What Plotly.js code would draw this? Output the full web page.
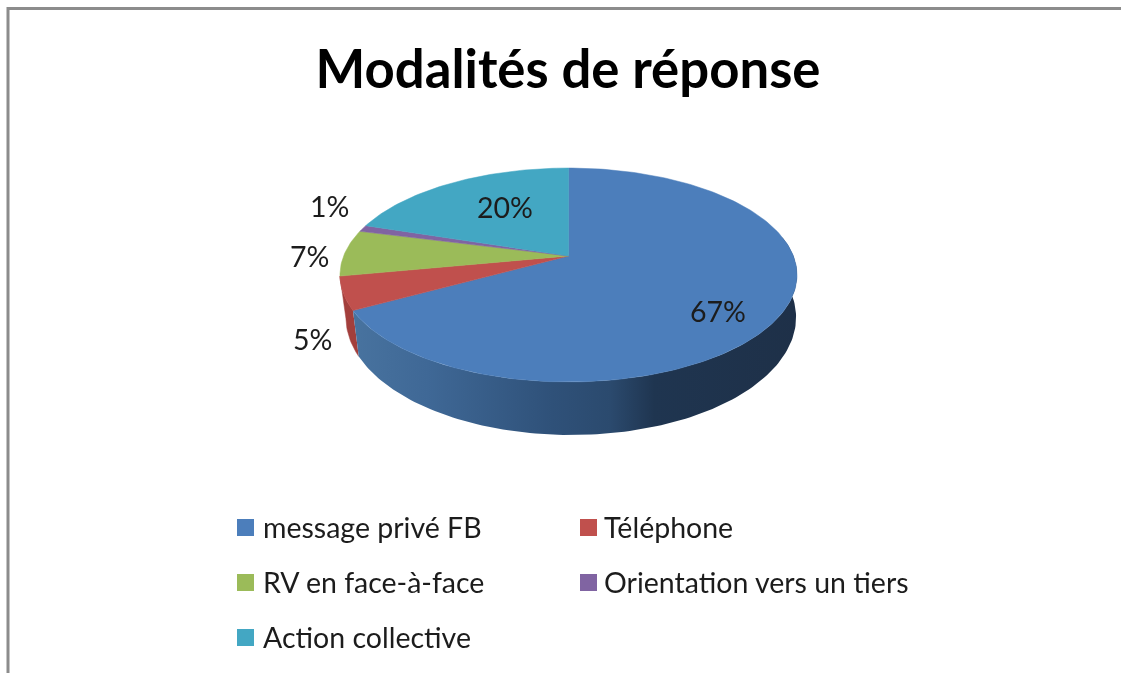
<!DOCTYPE html>
<html lang="fr">
<head>
<meta charset="utf-8">
<script src="https://cdn.plot.ly/plotly-3.0.1.min.js"></script>
<style>
html,body{margin:0;padding:0;background:#fff;overflow:hidden}
#chart{width:1121px;height:673px;filter:blur(0.5px)}
#chart text{font-variant-ligatures:none}
</style>
</head>
<body>
<div id="chart"></div>
<script>
// ---- Data ----
var categories = ["message privé FB", "Téléphone", "RV en face-à-face", "Orientation vers un tiers", "Action collective"];
var shares = [67, 5, 7, 1, 20];
var sliceLabels = ["67%", "5%", "7%", "1%", "20%"];
var colors = ["#4c7ebb", "#c0504d", "#9bbb59", "#8064a2", "#43a7c3"];
var chartTitle = "Modalités de réponse";

// ---- Projection of the tilted pie (perspective disc on a page-pixel axis) ----
var TOP = {cx: 568.5, cy: 256, a: 224.9, b: 103.6};
var BOTTOM = {cx: 571, cy: 296.4, a: 221.5, b: 114};
var K = 0.1776;
function project(face, frac) {
  var t = 2 * Math.PI * frac, s = Math.sin(t), c = Math.cos(t), w = 1 + K * c;
  return [face.cx + face.a * s / w, face.cy - face.b * c / w];
}
function arc(face, f0, f1) {
  var n = Math.max(2, Math.ceil(Math.abs(f1 - f0) * 300)), pts = [];
  for (var i = 0; i <= n; i++) pts.push(project(face, f0 + (f1 - f0) * i / n));
  return pts;
}
function polygon(pts, extra) {
  var tr = {type: "scatter", mode: "lines", x: pts.map(function (p) { return p[0]; }),
    y: pts.map(function (p) { return p[1]; }), fill: "toself", hoverinfo: "skip",
    showlegend: false, line: {width: 0.5}};
  for (var k in extra) tr[k] = extra[k];
  return tr;
}

// cumulative slice limits, clockwise from 12 o'clock
var total = shares.reduce(function (a, b) { return a + b; }, 0), cum = [0];
shares.forEach(function (v, i) { cum.push(cum[i] + v / total); });

var traces = [];
// outer wall: visible parts of the first two slices
var wallStart = 0.22;
var redWall = arc(TOP, cum[1], cum[2]).concat(arc(BOTTOM, cum[2], cum[1]));
traces.push(polygon(redWall, {fillcolor: "#a33f3c", line: {width: 0.5, color: "#a33f3c"}}));
var blueWall = arc(TOP, wallStart, cum[1]).concat(arc(BOTTOM, cum[1], wallStart));
traces.push(polygon(blueWall, {
  line: {width: 0},
  fillgradient: {type: "horizontal", start: 352, stop: 797, colorscale: [
    [0, "#48739f"], [0.17, "#3f6896"], [0.45, "#2f5179"], [0.58, "#2b4a6e"],
    [0.68, "#1f3550"], [1, "#1e3048"]]}
}));
// top face
categories.forEach(function (name, i) {
  var pts = [[TOP.cx, TOP.cy]].concat(arc(TOP, cum[i], cum[i + 1]));
  pts.push([TOP.cx, TOP.cy]);
  traces.push(polygon(pts, {name: name, fillcolor: colors[i], line: {width: 0.5, color: colors[i]}}));
});

// legend keys
var legendX = [245.5, 588.5, 245.5, 588.5, 245.5];
var legendY = [527.5, 527.5, 582.5, 582.5, 637.5];
var legendTextX = [261, 602, 261, 602, 261];
categories.forEach(function (name, i) {
  traces.push({type: "scatter", mode: "markers", x: [legendX[i]], y: [legendY[i]], name: name,
    hoverinfo: "name", showlegend: false, marker: {symbol: "square", size: 17, color: colors[i], line: {width: 0}}});
});

var FONT = "Lato, 'Open Sans', sans-serif";
var labelX = [718, 312, 309, 329, 505];
var labelY = [311, 339, 256, 206, 207];
var annotations = [];
sliceLabels.forEach(function (txt, i) {
  annotations.push({x: labelX[i], y: labelY[i], text: txt, showarrow: false, xanchor: "center", yanchor: "middle",
    font: {family: FONT, size: 28.5, color: "#1c1c1c"}});
});
categories.forEach(function (name, i) {
  annotations.push({x: legendTextX[i], y: legendY[i] - 1, text: name, showarrow: false, xanchor: "left", yanchor: "middle",
    font: {family: FONT, size: 28.5, color: "#1c1c1c"}});
});

var hiddenAxis = {visible: false, fixedrange: true, showgrid: false, zeroline: false};
var layout = {
  width: 1121, height: 673, margin: {l: 0, r: 0, t: 0, b: 0},
  paper_bgcolor: "#ffffff", plot_bgcolor: "#ffffff", showlegend: false,
  title: {text: "<b>" + chartTitle + "</b>", x: 568 / 1121, xanchor: "center", y: 1 - 70 / 673, yanchor: "middle",
    font: {family: FONT, size: 52.7, color: "#000000"}},
  xaxis: Object.assign({range: [0, 1121]}, hiddenAxis),
  yaxis: Object.assign({range: [673, 0]}, hiddenAxis),
  annotations: annotations,
  shapes: [
    {type: "line", xref: "paper", yref: "paper", x0: 8 / 1121, x1: 1, y0: 1 - 8.5 / 673, y1: 1 - 8.5 / 673, line: {color: "#8c8c8c", width: 3}},
    {type: "line", xref: "paper", yref: "paper", x0: 8 / 1121, x1: 8 / 1121, y0: 1 - 7 / 673, y1: 0, line: {color: "#8c8c8c", width: 3}}
  ]
};
Plotly.newPlot("chart", traces, layout, {displayModeBar: false});
</script>
</body>
</html>
